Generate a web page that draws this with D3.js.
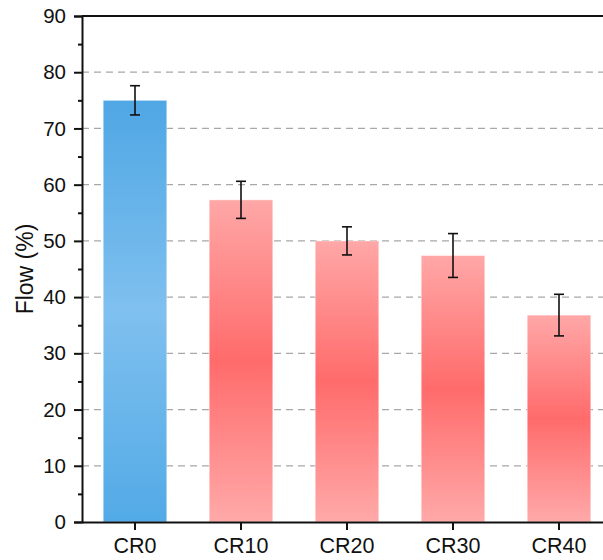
<!DOCTYPE html>
<html>
<head>
<meta charset="utf-8">
<script src="https://cdn.jsdelivr.net/npm/d3@7"></script>
<style>
  body { margin: 0; background: #fff; }
  svg { display: block; font-family: "Liberation Sans", Arial, sans-serif; }
</style>
</head>
<body>
<svg id="chart"></svg>
<script>
const categories = ["CR0", "CR10", "CR20", "CR30", "CR40"];
const flowValues = [75.0, 57.3, 50.0, 47.4, 36.8];
const flowErrors = [2.6, 3.3, 2.5, 3.9, 3.7];
const yTicks = [0, 10, 20, 30, 40, 50, 60, 70, 80, 90];

const width = 603, height = 560;
const margin = { top: 16, right: -9, bottom: 38, left: 82 };
const innerW = width - margin.left - margin.right;
const innerH = height - margin.top - margin.bottom;

const svg = d3.select("#chart").attr("width", width).attr("height", height);

// gradients: blue for the reference, red for the others
const defs = svg.append("defs");
const blue = defs.append("linearGradient").attr("id", "gBlue")
  .attr("x1", 0).attr("y1", 0).attr("x2", 0).attr("y2", 1);
blue.append("stop").attr("offset", "0%").attr("stop-color", "#4fa7e4");
blue.append("stop").attr("offset", "50%").attr("stop-color", "#7fc0ef");
blue.append("stop").attr("offset", "100%").attr("stop-color", "#52aae6");
const red = defs.append("linearGradient").attr("id", "gRed")
  .attr("x1", 0).attr("y1", 0).attr("x2", 0).attr("y2", 1);
red.append("stop").attr("offset", "0%").attr("stop-color", "#ffa7a7");
red.append("stop").attr("offset", "50%").attr("stop-color", "#ff6b6b");
red.append("stop").attr("offset", "100%").attr("stop-color", "#ffa9a9");

const g = svg.append("g").attr("transform", `translate(${margin.left},${margin.top})`);

const x = d3.scaleBand().domain(categories).range([0, innerW])
  .paddingInner(0.4).paddingOuter(0.2);
const y = d3.scaleLinear().domain([0, 90]).range([innerH, 0]);

// dashed grid
g.append("g")
  .selectAll("line")
  .data(yTicks.filter(d => d > 0 && d < 90))
  .join("line")
  .attr("x1", 0).attr("x2", innerW)
  .attr("y1", d => y(d)).attr("y2", d => y(d))
  .attr("stroke", "#a8a8a8")
  .attr("stroke-width", 1.3)
  .attr("stroke-dasharray", "7,5");

// bars
g.append("g")
  .selectAll("rect")
  .data(categories)
  .join("rect")
  .attr("x", d => x(d))
  .attr("width", x.bandwidth())
  .attr("y", (d, i) => y(flowValues[i]))
  .attr("height", (d, i) => innerH - y(flowValues[i]))
  .attr("fill", (d, i) => i === 0 ? "url(#gBlue)" : "url(#gRed)")
  .attr("stroke", "#ffffff")
  .attr("stroke-opacity", 0.45)
  .attr("stroke-width", 1);

// error bars
const err = g.append("g").attr("stroke", "#111").attr("stroke-width", 1.6);
categories.forEach((c, i) => {
  const cx = x(c) + x.bandwidth() / 2;
  const hi = y(flowValues[i] + flowErrors[i]);
  const lo = y(flowValues[i] - flowErrors[i]);
  err.append("line").attr("x1", cx).attr("x2", cx).attr("y1", hi).attr("y2", lo);
  err.append("line").attr("x1", cx - 5).attr("x2", cx + 5).attr("y1", hi).attr("y2", hi);
  err.append("line").attr("x1", cx - 5).attr("x2", cx + 5).attr("y1", lo).attr("y2", lo);
});

// y axis with minor ticks
const yAxis = g.append("g")
  .call(d3.axisLeft(y).tickValues(yTicks).tickSize(8).tickPadding(8));
yAxis.selectAll("text").attr("font-size", 20.5).attr("fill", "#111");
g.append("g")
  .call(d3.axisLeft(y).tickValues(d3.range(5, 90, 10)).tickSize(4).tickFormat(""))
  .select(".domain").remove();

// x axis
const xAxis = g.append("g")
  .attr("transform", `translate(0,${innerH})`)
  .call(d3.axisBottom(x).tickSize(8).tickPadding(8).tickSizeOuter(0));
xAxis.selectAll("text").attr("font-size", 21.5).attr("fill", "#111");

svg.selectAll(".domain, .tick line").attr("stroke", "#111").attr("stroke-width", 2);

// top frame line
g.append("line")
  .attr("x1", 0).attr("x2", innerW).attr("y1", 0).attr("y2", 0)
  .attr("stroke", "#111").attr("stroke-width", 2);

// y label
svg.append("text")
  .attr("transform", `translate(33,${margin.top + innerH / 2}) rotate(-90)`)
  .attr("text-anchor", "middle")
  .attr("font-size", 23)
  .attr("fill", "#111")
  .text("Flow (%)");
</script>
</body>
</html>
